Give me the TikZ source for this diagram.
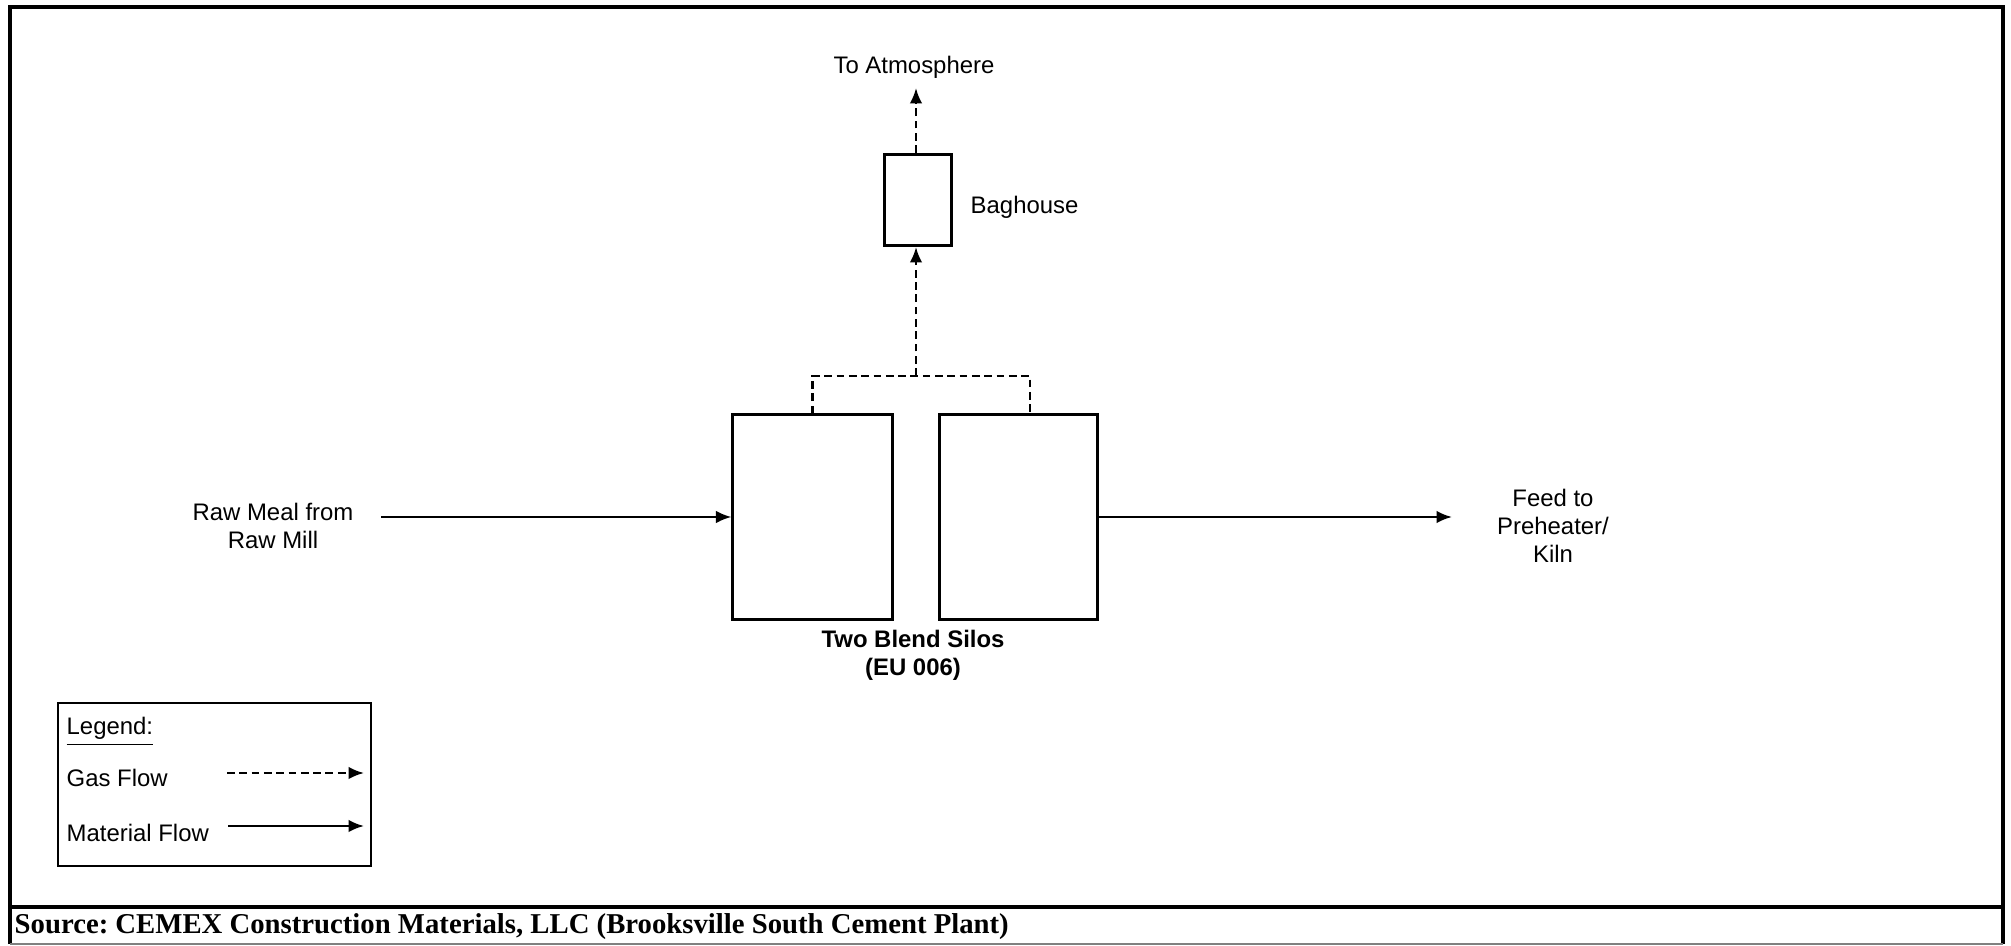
\documentclass[tikz,border=0pt]{standalone}
\usepackage{fontspec}
\setmainfont{Liberation Sans}
\newfontfamily\srcfont{Liberation Serif}
\usepackage{tikz}
\usetikzlibrary{arrows.meta,positioning}

\begin{document}
\frenchspacing
\begin{tikzpicture}[x=0.01cm,y=-0.01cm,
  lbl/.style={font=\fontsize{6.8}{7.9}\selectfont,align=center,inner sep=0pt},
  unit/.style={draw,line width=0.85pt,inner sep=0pt},
  matflow/.style={line width=0.7pt,-{Latex[length=4.4pt,width=3.6pt]}},
  gasflow/.style={line width=0.7pt,dash pattern=on 2.2pt off 1.3pt},
  frameline/.style={line width=1.3pt}]
\useasboundingbox (0,0) rectangle (2011,946);
% outer frame and source strip
\draw[frameline] (10,944) -- (10,7) -- (2003,7) -- (2003,944);
\draw[frameline] (10,907) -- (2003,907);
\draw[line width=0.4pt,gray] (10,944) -- (2003,944);
\node[anchor=west,inner sep=0pt,font=\srcfont\bfseries\fontsize{8.17}{9}\selectfont] (source) at (14,927)
  {Source: CEMEX Construction Materials, LLC (Brooksville South Cement Plant)};
% silos and baghouse
\node[unit,minimum width=1.59cm,minimum height=2.04cm] (siloA) at (812.5,517) {};
\node[unit,minimum width=1.57cm,minimum height=2.04cm] (siloB) at (1018.5,517) {};
\node[lbl,font=\fontsize{6.8}{7.9}\selectfont\bfseries] (silolbl) at (913,655) {Two Blend Silos\\(EU 006)};
\node[unit,minimum width=0.66cm,minimum height=0.91cm] (bag) at (918,200) {};
\node[lbl,anchor=west] (baglbl) at (970,207) {Baghouse};
\node[lbl] (atm) at (914,67) {To Atmosphere};
% material in and out
\node[lbl] (raw) at (273,526) {Raw Meal from\\Raw Mill};
\node[lbl] (feed) at (1553,526) {Feed to\\Preheater/\\Kiln};
\coordinate (rawout) at (381,517);
\coordinate (feedin) at (1452,517);
\draw[matflow] (rawout) -- (siloA.west);
\draw[matflow] (siloB.east) -- (feedin);
% gas to baghouse
\coordinate (jn) at (916,376);
\coordinate (ventB) at (1030,415);
\coordinate (atmin) at (916,88);
\draw[gasflow] (siloA.north) |- (jn -| ventB) -- (ventB);
\draw[gasflow,-{Latex[length=4.4pt,width=3.6pt]}] (jn) -- (jn |- bag.south);
\draw[gasflow,-{Latex[length=4.4pt,width=3.6pt]}] (jn |- bag.north) -- (atmin);
% legend
\node[unit,line width=0.75pt,minimum width=3.13cm,minimum height=1.63cm] (legend) at (214.5,784.5) {};
\node[lbl,anchor=west] (leghead) at (66,732) {\underline{Legend:}};
\node[lbl,anchor=west] (leggas) at (66,778) {Gas Flow};
\node[lbl,anchor=west] (legmat) at (66,833) {Material Flow};
\coordinate (gasA) at (227,773);
\coordinate (gasB) at (364,773);
\coordinate (matA) at (228,826);
\coordinate (matB) at (364,826);
\draw[gasflow,-{Latex[length=4.4pt,width=3.6pt]}] (gasA) -- (gasB);
\draw[matflow] (matA) -- (matB);
\end{tikzpicture}
\end{document}
